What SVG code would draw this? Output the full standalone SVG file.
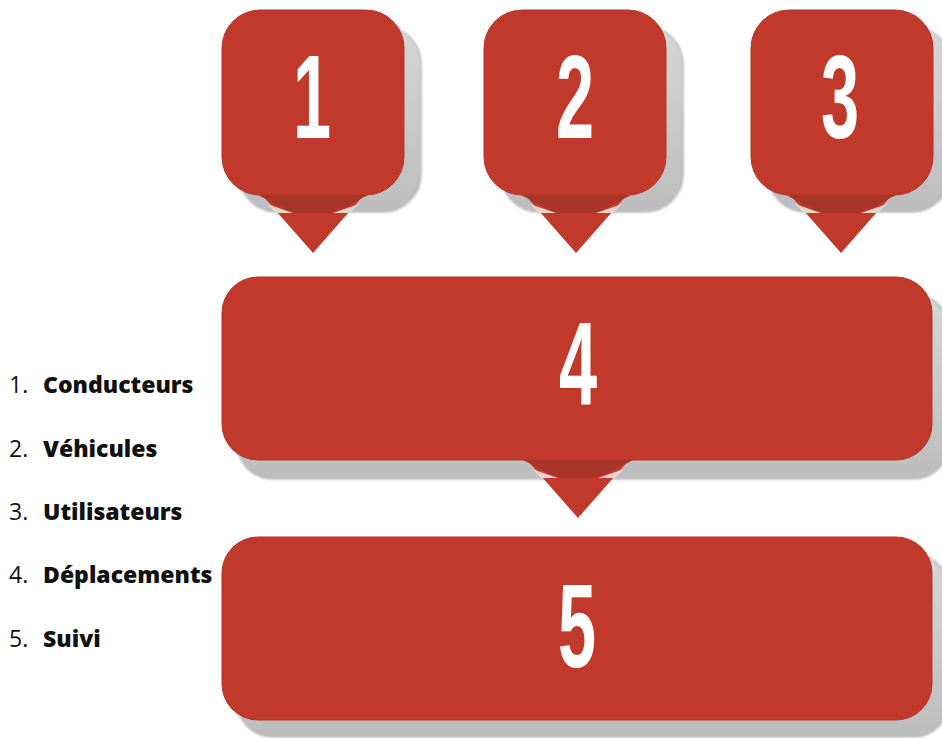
<svg xmlns="http://www.w3.org/2000/svg" width="942" height="738" viewBox="0 0 942 738">
  <style>
    .card { fill: #c0392b; stroke: #b3352a; stroke-width: 1; }
    .shade { fill: url(#shadeGrad); stroke: #a9a9a9; stroke-width: 1.2; filter: url(#soft); }
    .tip { fill: #c0392b; }
    .flap { fill: #a8342a; }
    .glint { fill: #ecd2ce; }
    .num { font-family: "Liberation Sans", Arial, sans-serif; font-weight: bold; font-size: 118px; fill: #ffffff; text-anchor: middle; }
    .item { font-family: "Open Sans", "Noto Sans", sans-serif; font-size: 23px; fill: #111111; }
    .item tspan.b { font-weight: 800; }
  </style>
  <defs>
    <linearGradient id="shadeGrad" x1="0" y1="0" x2="0" y2="1">
      <stop offset="0" stop-color="#d6d6d6"/>
      <stop offset="1" stop-color="#bdbdbd"/>
    </linearGradient>
    <filter id="soft" x="-5%" y="-5%" width="110%" height="110%">
      <feGaussianBlur stdDeviation="0.8"/>
    </filter>
    <!-- downward pointer, origin at the centre of the card's bottom edge -->
    <g id="pointer">
      <polygon class="tip" points="-51,0 51,0 0,58"/>
      <polygon class="flap" points="-55,0 55,0 20,18 -20,18"/>
      <polygon class="glint" points="-37,18 -20,18 -46,9"/>
      <polygon class="glint" points="37,18 20,18 46,9"/>
    </g>
  </defs>

  <!-- card 1 -->
  <g id="node1">
    <rect class="shade" x="239" y="26" width="182" height="186" rx="38"/>
    <rect class="card" x="222" y="10" width="182" height="185" rx="38"/>
    <use href="#pointer" x="313" y="195"/>
    <text class="num" transform="translate(312,138) scale(0.58,1)">1</text>
  </g>

  <!-- card 2 -->
  <g id="node2">
    <rect class="shade" x="501" y="26" width="182" height="186" rx="38"/>
    <rect class="card" x="484" y="10" width="182" height="185" rx="38"/>
    <use href="#pointer" x="576" y="195"/>
    <text class="num" transform="translate(575,138) scale(0.58,1)">2</text>
  </g>

  <!-- card 3 -->
  <g id="node3">
    <rect class="shade" x="768" y="26" width="182" height="186" rx="38"/>
    <rect class="card" x="751" y="10" width="182" height="185" rx="38"/>
    <use href="#pointer" x="841" y="195"/>
    <text class="num" transform="translate(840,138) scale(0.58,1)">3</text>
  </g>

  <!-- card 4 -->
  <g id="node4">
    <rect class="shade" x="237" y="294" width="712" height="185" rx="36"/>
    <rect class="card" x="222" y="277" width="710" height="183" rx="36"/>
    <use href="#pointer" x="578" y="460"/>
    <text class="num" transform="translate(578,405) scale(0.58,1)">4</text>
  </g>

  <!-- card 5 -->
  <g id="node5">
    <rect class="shade" x="237" y="554" width="712" height="183" rx="36"/>
    <rect class="card" x="222" y="537" width="710" height="183" rx="36"/>
    <text class="num" transform="translate(577,667) scale(0.58,1)">5</text>
  </g>

  <!-- no separate connector lines: the pointers above are part of the cards -->
  <g id="connectors"/>

  <!-- legend -->
  <g id="legend">
    <text class="item" x="9" y="393">1.  <tspan class="b" x="43">Conducteurs</tspan></text>
    <text class="item" x="9" y="457">2.  <tspan class="b" x="43">Véhicules</tspan></text>
    <text class="item" x="9" y="520">3.  <tspan class="b" x="43">Utilisateurs</tspan></text>
    <text class="item" x="9" y="583">4.  <tspan class="b" x="43">Déplacements</tspan></text>
    <text class="item" x="9" y="647">5.  <tspan class="b" x="43">Suivi</tspan></text>
  </g>
</svg>
